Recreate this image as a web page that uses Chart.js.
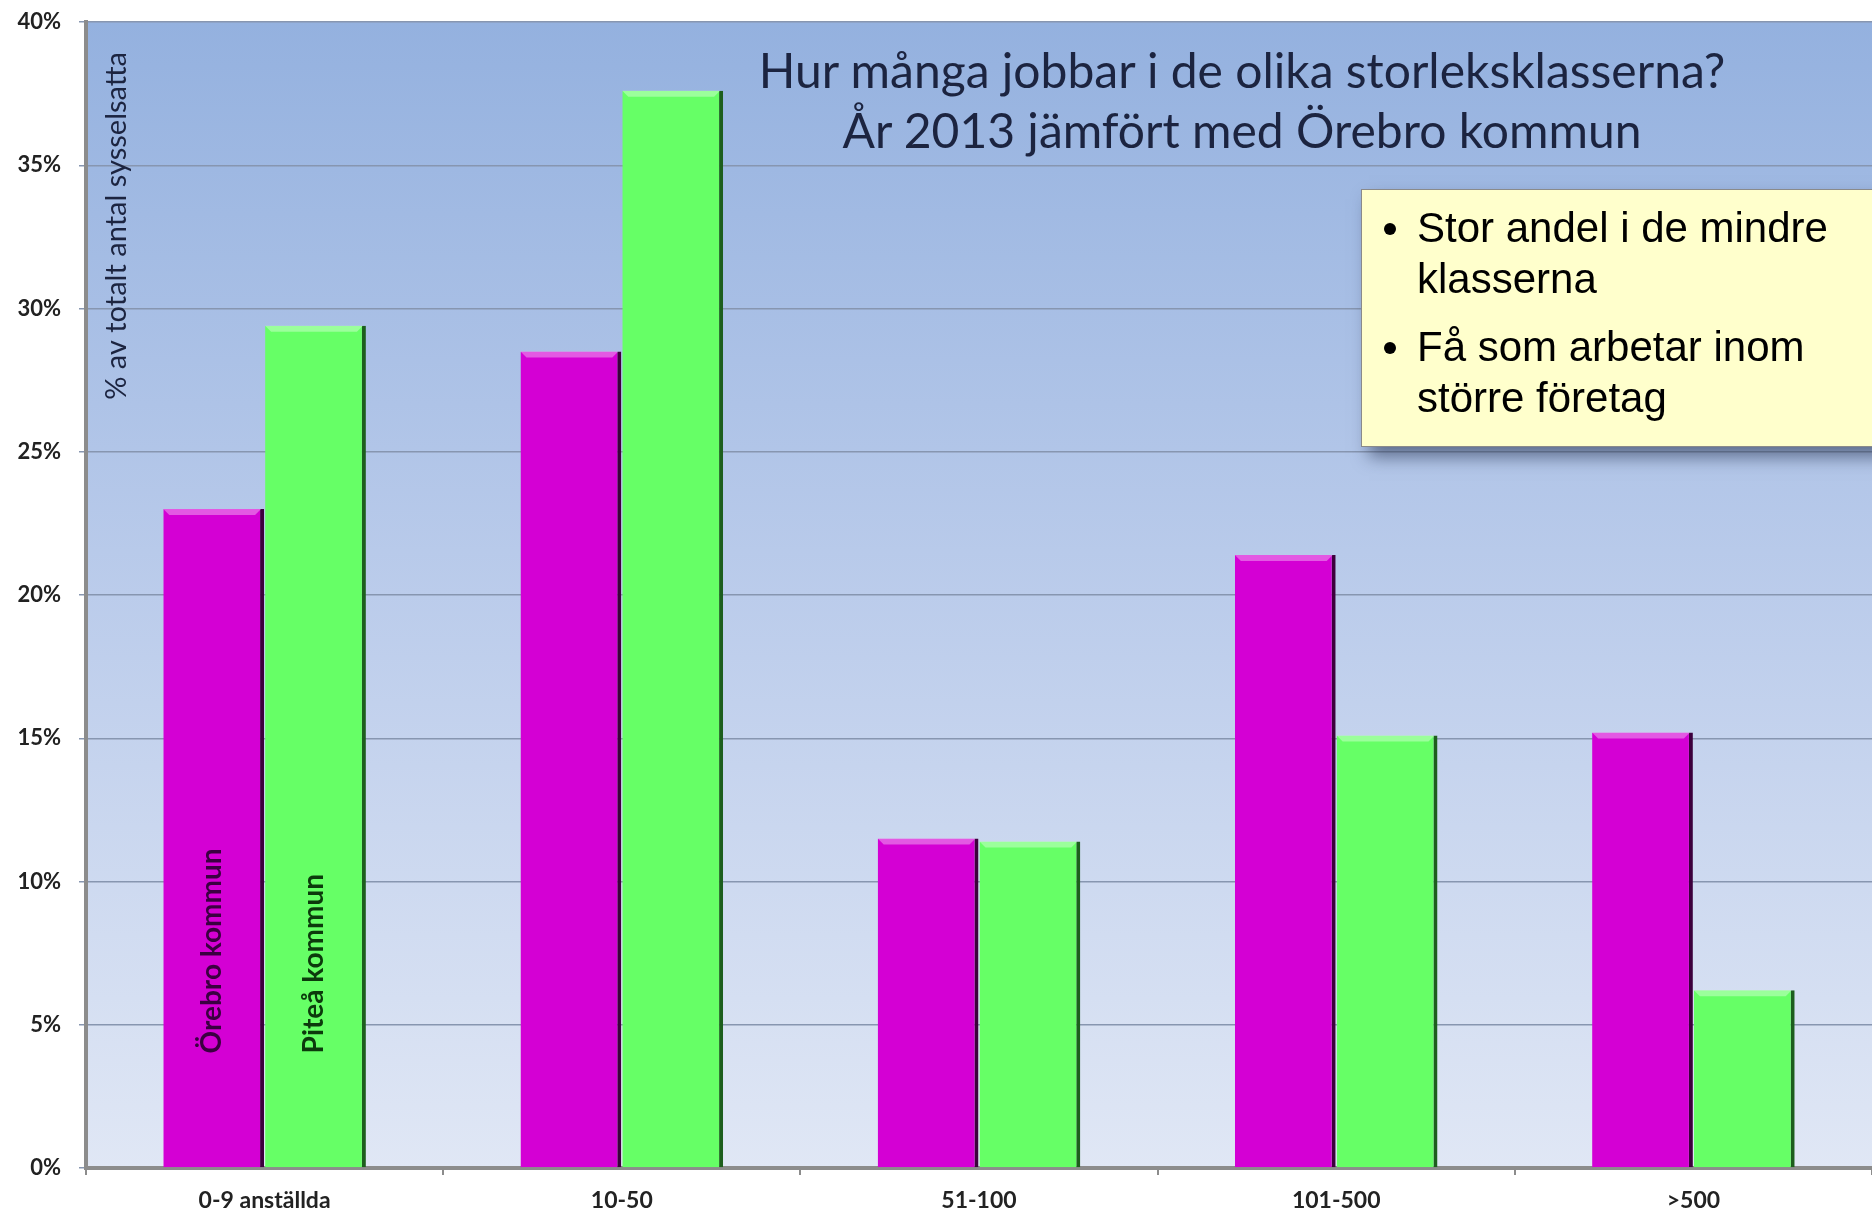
<!DOCTYPE html>
<html>
<head>
<meta charset="utf-8">
<script src="https://cdn.jsdelivr.net/npm/chart.js@4.4.0/dist/chart.umd.min.js"></script>
<style>
  body { margin: 0; background: #fff; }
  #wrap { position: relative; width: 1872px; height: 1213px; overflow: hidden; }
  #chart { position: absolute; left: 0; top: 0; }
  #title {
    position: absolute; left: 692px; top: 40px; width: 1100px;
    text-align: center; font-family: Lato, "Open Sans", sans-serif;
    font-size: 48px; line-height: 60px; color: #1c2440;
  }
  #note {
    position: absolute; left: 1361px; top: 189px; width: 560px; height: 258px;
    background: #ffffcc; border: 1px solid #8a8a8a;
    box-shadow: 8px 10px 16px rgba(30, 40, 70, 0.55);
    font-family: "Liberation Sans", Arial, sans-serif; font-size: 42px; color: #000;
    box-sizing: border-box; padding-top: 12px;
  }
  #note .item { position: relative; padding-left: 55px; line-height: 51px; margin-bottom: 17px; }
  #note .item::before {
    content: ""; position: absolute; left: 22px; top: 21px;
    width: 12px; height: 12px; border-radius: 50%; background: #000;
  }
</style>
</head>
<body>
<div id="wrap">
  <canvas id="chart" width="1872" height="1213"></canvas>
  <div id="title">Hur många jobbar i de olika storleksklasserna?<br>År 2013 jämfört med Örebro kommun</div>
  <div id="note">
    <div class="item">Stor andel i de mindre<br>klasserna</div>
    <div class="item">Få som arbetar inom<br>större företag</div>
  </div>
</div>
<script>
// storleksklasser (antal anställda)
const categories = ['0-9 anställda', '10-50', '51-100', '101-500', '>500'];
// andel av totalt antal sysselsatta, procent
const orebro = [23.0, 28.5, 11.5, 21.4, 15.2];
const pitea = [29.4, 37.6, 11.4, 15.1, 6.2];
const seriesNames = ['Örebro kommun', 'Piteå kommun'];
const yAxisTitle = '% av totalt antal sysselsatta';

// plot background, blue to pale
const plotBackground = {
  id: 'plotBackground',
  beforeDatasetsDraw(chart) {
    const { ctx, chartArea: a } = chart;
    const g = ctx.createLinearGradient(0, a.top, 0, a.bottom);
    g.addColorStop(0, '#94b1df');
    g.addColorStop(0.5, '#bbcceb');
    g.addColorStop(1, '#e0e7f5');
    ctx.save();
    ctx.globalCompositeOperation = 'destination-over';
    ctx.fillStyle = g;
    ctx.fillRect(a.left, a.top, a.right - a.left, a.bottom - a.top);
    ctx.restore();
  }
};

// bevel on bar tops, labels inside first bars, axis title inside plot
const decorations = {
  id: 'decorations',
  afterDatasetsDraw(chart) {
    const { ctx, chartArea: a } = chart;
    const y = chart.scales.y;
    ctx.save();
    chart.data.datasets.forEach((ds, i) => {
      chart.getDatasetMeta(i).data.forEach(bar => {
        const w = bar.width;
        const left = bar.x - w / 2;
        ctx.fillStyle = 'rgba(255,255,255,0.35)';
        ctx.beginPath();
        ctx.moveTo(left, bar.y);
        ctx.lineTo(left + w - 3, bar.y);
        ctx.lineTo(left + w - 9, bar.y + 6);
        ctx.lineTo(left + 6, bar.y + 6);
        ctx.closePath();
        ctx.fill();
      });
    });

    const labelColors = ['#3a0040', '#0c3a0c'];
    ctx.font = 'bold 28px Lato, "Open Sans", sans-serif';
    ctx.textBaseline = 'middle';
    ctx.textAlign = 'left';
    seriesNames.forEach((name, i) => {
      const bar = chart.getDatasetMeta(i).data[0];
      ctx.save();
      ctx.translate(bar.x - 2, y.getPixelForValue(4.0));
      ctx.rotate(-Math.PI / 2);
      ctx.fillStyle = labelColors[i];
      ctx.fillText(name, 0, 0);
      ctx.restore();
    });

    ctx.font = '29px Lato, "Open Sans", sans-serif';
    ctx.fillStyle = '#1c2440';
    ctx.textAlign = 'right';
    ctx.translate(a.left + 31, a.top + 30);
    ctx.rotate(-Math.PI / 2);
    ctx.fillText(yAxisTitle, 0, 0);
    ctx.restore();
  }
};

new Chart(document.getElementById('chart'), {
  type: 'bar',
  data: {
    labels: categories,
    datasets: [
      {
        label: seriesNames[0], data: orebro,
        backgroundColor: '#d400d4', borderColor: '#3c003c',
        borderWidth: { right: 4, left: 0, top: 0, bottom: 0 }, borderSkipped: false
      },
      {
        label: seriesNames[1], data: pitea,
        backgroundColor: '#66ff66', borderColor: '#1d5e1d',
        borderWidth: { right: 4, left: 0, top: 0, bottom: 0 }, borderSkipped: false
      }
    ]
  },
  options: {
    responsive: false,
    animation: false,
    layout: { padding: { top: 22, right: 0, left: 0, bottom: 0 } },
    datasets: { bar: { categoryPercentage: 0.57, barPercentage: 0.99 } },
    plugins: { legend: { display: false }, title: { display: false }, tooltip: { enabled: false } },
    scales: {
      x: {
        offset: true,
        afterFit(s) { s.height = 45; s.paddingLeft = 0; s.paddingRight = 0; },
        grid: { offset: true, drawOnChartArea: false, drawTicks: true, tickLength: 7, color: '#8c8c8c', lineWidth: 2 },
        border: { color: '#8c8c8c', width: 4 },
        ticks: {
          color: '#222', padding: 12,
          font: { family: 'Lato, "Open Sans", sans-serif', size: 23, weight: 'bold' }
        }
      },
      y: {
        min: 0, max: 40,
        afterFit(s) { s.width = 86; s.paddingTop = 0; s.paddingBottom = 0; },
        grid: { color: '#8796b0', lineWidth: 1.5, tickLength: 7, drawTicks: true },
        border: { color: '#8c8c8c', width: 4 },
        ticks: {
          stepSize: 5, color: '#222', padding: 18,
          font: { family: 'Lato, "Open Sans", sans-serif', size: 22, weight: 'bold' },
          callback: v => v + '%'
        }
      }
    }
  },
  plugins: [plotBackground, decorations]
});
</script>
</body>
</html>
